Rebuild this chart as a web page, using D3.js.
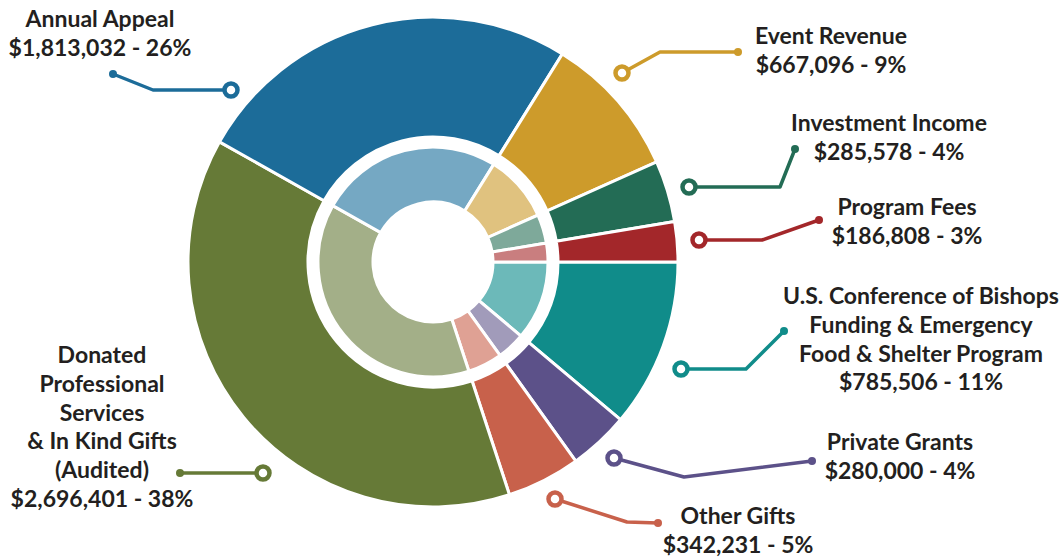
<!DOCTYPE html>
<head>
  <meta charset="utf-8">
  <script src="https://cdn.jsdelivr.net/npm/d3@7"></script>
  <style>
    body { margin: 0; background: #fff; }
    .label {
      font-family: "Lato", "Open Sans", sans-serif;
      font-weight: 700;
      font-size: 23px;
      fill: #231f20;
      text-anchor: middle;
    }
  </style>
</head>
<body>
  <div id="chart"></div>
  <script>

  // slices, clockwise from 3 o'clock
  var categories = ["US Conference", "Private Grants", "Other Gifts", "Donated",
                    "Annual Appeal", "Event Revenue", "Investment Income", "Program Fees"];
  var amounts = [785506, 280000, 342231, 2696401, 1813032, 667096, 285578, 186808];
  var percents = [11, 4, 5, 38, 26, 9, 4, 3];
  var labelLines = [
    ["U.S. Conference of Bishops", "Funding & Emergency", "Food & Shelter Program"],
    ["Private Grants"],
    ["Other Gifts"],
    ["Donated", "Professional", "Services", "& In Kind Gifts", "(Audited)"],
    ["Annual Appeal"],
    ["Event Revenue"],
    ["Investment Income"],
    ["Program Fees"]
  ];
  var outerColors = ["#108c8a", "#5c5189", "#c8614b", "#667a37", "#1c6c99", "#cd9b2b", "#236c55", "#a3272a"];
  var innerColors = ["#6cb9b9", "#a19bba", "#dfa194", "#a3af88", "#75a8c3", "#e0c27f", "#7ea99a", "#c97e7f"];

  // label anchor (centre x, first baseline) and connector points
  var labelPos = [[921, 304], [900, 450], [738, 524], [102, 363], [100, 27], [831, 44], [889, 131], [907, 215]];
  var connectors = [
    [[681, 369], [746, 369], [784, 331]],
    [[614, 458], [684, 477], [812, 461]],
    [[555, 499], [627, 522], [658, 523]],
    [[263, 473], [180, 473]],
    [[231, 90], [153, 90], [113, 74]],
    [[622, 73], [660, 52], [738, 52]],
    [[689, 187], [780, 187], [795, 149]],
    [[699, 240], [762, 240], [819, 220]]
  ];

  var width = 1060, height = 557,
      cx = 433, cy = 262;

  var fmt = d3.format("$,");

  var svg = d3.select("#chart").append("svg")
      .attr("width", width)
      .attr("height", height);

  var data = categories.map(function(c, i) {
    return {name: c, value: amounts[i], i: i};
  });

  var pie = d3.pie()
      .sort(null)
      .value(function(d) { return d.value; })
      .startAngle(Math.PI / 2)
      .endAngle(Math.PI / 2 + 2 * Math.PI);

  var arcs = pie(data);

  var outerArc = d3.arc().innerRadius(125).outerRadius(245);
  var innerArc = d3.arc().innerRadius(60).outerRadius(115);

  var g = svg.append("g")
      .attr("transform", "translate(" + cx + "," + cy + ")");

  g.selectAll(".outer")
      .data(arcs)
    .enter().append("path")
      .attr("class", "outer")
      .attr("d", outerArc)
      .style("fill", function(d) { return outerColors[d.data.i]; })
      .style("stroke", "#fff")
      .style("stroke-width", 3);

  g.selectAll(".inner")
      .data(arcs)
    .enter().append("path")
      .attr("class", "inner")
      .attr("d", innerArc)
      .style("fill", function(d) { return innerColors[d.data.i]; })
      .style("stroke", "#fff")
      .style("stroke-width", 3);

  // connector lines
  var line = d3.line();
  var conn = svg.selectAll(".conn")
      .data(connectors)
    .enter().append("g")
      .attr("class", "conn");

  conn.append("path")
      .attr("d", function(d) { return line(d); })
      .style("fill", "none")
      .style("stroke", function(d, i) { return outerColors[i]; })
      .style("stroke-width", 3.5)
      .style("stroke-linejoin", "round");

  conn.append("circle")
      .attr("cx", function(d) { return d[0][0]; })
      .attr("cy", function(d) { return d[0][1]; })
      .attr("r", 6.5)
      .style("fill", "#fff")
      .style("stroke", function(d, i) { return outerColors[i]; })
      .style("stroke-width", 4.5);

  conn.append("circle")
      .attr("cx", function(d) { return d[d.length - 1][0]; })
      .attr("cy", function(d) { return d[d.length - 1][1]; })
      .attr("r", 4)
      .style("fill", function(d, i) { return outerColors[i]; });

  // labels
  labelLines.forEach(function(lines, i) {
    var all = lines.concat([fmt(amounts[i]) + " - " + percents[i] + "%"]);
    var t = svg.append("text")
        .attr("class", "label")
        .attr("x", labelPos[i][0])
        .attr("y", labelPos[i][1]);
    all.forEach(function(s, k) {
      t.append("tspan")
        .attr("x", labelPos[i][0])
        .attr("dy", k === 0 ? 0 : 28.8)
        .text(s);
    });
  });

  </script>
</body>
